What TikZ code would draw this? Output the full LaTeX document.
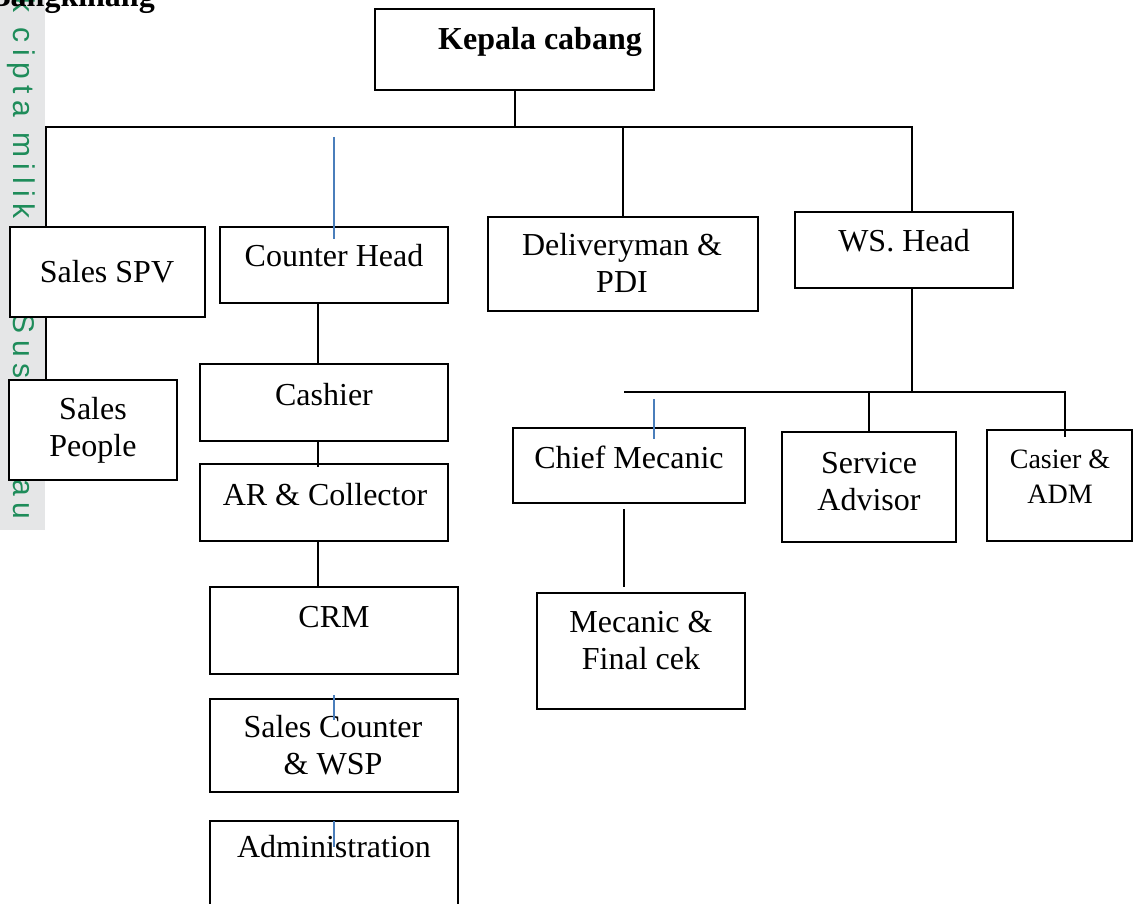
\documentclass[tikz,border=0pt]{standalone}
\usepackage{fontspec}
\setmainfont{Liberation Serif}
\newfontfamily\wmfont[LetterSpace=22]{Liberation Sans}
\usepackage{tikz}
\definecolor{biru}{HTML}{4A7EBB}
\definecolor{hijau}{HTML}{1E8C5A}
\definecolor{abu}{HTML}{E5E6E7}
\tikzstyle{kotak}=[draw,line width=2pt,fill=white,inner sep=0pt,outer sep=0pt,anchor=north west]
\tikzstyle{tulisan}=[inner sep=0pt,anchor=base,align=center,font=\fontsize{32}{37}\selectfont]
\tikzstyle{garis} = [draw,line width=2pt,-]
\tikzstyle{garisbiru} = [draw,line width=1.4pt,biru,-]

\begin{document}
\begin{tikzpicture}[x=1pt,y=-1pt]
      \useasboundingbox (0,0) rectangle (1133,904);
      % strip tepi kiri
      \fill[abu] (0,0) rectangle (45,530);
      \node[font=\wmfont\fontsize{30}{30}\selectfont,text=hijau,rotate=-90,anchor=base west,inner sep=0pt] (hakcipta) at (13,-54) {Hak cipta milik UIN Suska Riau};
      \node[font=\bfseries\fontsize{32}{37}\selectfont,anchor=base east,inner sep=0pt] (judul) at (155,7) {Bangkinang};

      \foreach \id/\xa/\ya/\xb/\yb in {kepala/375/9/654/90,spv/10/227/205/317,people/9/380/177/480,
          counter/220/227/448/303,cashier/200/364/448/441,ar/200/464/448/541,crm/210/587/458/674,
          salescounter/210/699/458/792,admin/210/821/458/915,delivery/488/217/758/311,
          ws/795/212/1013/288,chief/513/428/745/503,mecanic/537/593/745/709,
          service/782/432/956/542,casier/987/430/1132/541}{
        \node[kotak,minimum width={(\xb-\xa)*1pt},minimum height={(\yb-\ya)*1pt}] (\id) at (\xa,\ya) {};
      }

      % baris terakhir dipakai sebagai base
      \node[tulisan,font=\bfseries\fontsize{32}{37}\selectfont] (tkepala) at (540,50) {Kepala cabang};
      \node[tulisan] (tspv) at (107,283) {Sales SPV};
      \node[tulisan] (tpeople) at (93,456) {Sales\\People};
      \node[tulisan] (tcounter) at (334,267) {Counter Head};
      \node[tulisan] (tcashier) at (324,405) {Cashier};
      \node[tulisan] (tar) at (325,505) {AR \& Collector};
      \node[tulisan] (tcrm) at (334,627) {CRM};
      \node[tulisan] (tsalescounter) at (333,774) {Sales Counter\\\& WSP};
      \node[tulisan] (tadmin) at (334,857) {Administration};
      \node[tulisan] (tdelivery) at (622,293) {Deliveryman \&\\PDI};
      \node[tulisan] (tws) at (904,252) {WS. Head};
      \node[tulisan] (tchief) at (629,468) {Chief Mecanic};
      \node[tulisan] (tmecanic) at (641,669) {Mecanic \&\\Final cek};
      \node[tulisan] (tservice) at (869,510) {Service\\Advisor};
      \node[tulisan,font=\fontsize{28}{35}\selectfont] (tcasier) at (1060,503) {Casier \&\\ADM};

      \coordinate (barkiri) at (46,127);
      \coordinate (barkanan) at (912,127);
      \coordinate (jalur) at (318,0);
      \coordinate (bar2kiri) at (624,392);
      \coordinate (bar2kanan) at (1065,392);

      \path[garis] (kepala.south) -- (kepala.south |- barkiri);
      \path[garis] (barkiri |- spv.north) -- (barkiri) -- (barkanan) -- (barkanan |- ws.north);
      \path[garis] (delivery.north) -- (delivery.north |- barkiri);
      \path[garis] (barkiri |- spv.south) -- (barkiri |- people.north);
      \path[garis] (counter.south -| jalur) -- (cashier.north -| jalur);
      \path[garis] (cashier.south -| jalur) -- ([yshift=-3pt]ar.north -| jalur);
      \path[garis] (ar.south -| jalur) -- (crm.north -| jalur);
      \path[garis] (ws.south -| barkanan) -- (barkanan |- bar2kiri);
      \path[garis] (bar2kiri) -- (bar2kanan) -- ([yshift=-7pt]casier.north -| bar2kanan);
      \path[garis] (service.north) -- (service.north |- bar2kiri);
      \path[garis] ([yshift=-6pt]chief.south -| bar2kiri) -- ([yshift=6pt]mecanic.north -| bar2kiri);

      \path[garisbiru] ([yshift=90pt]counter.north) -- ([yshift=-12pt]counter.north);
      \path[garisbiru] ([xshift=25pt,yshift=29pt]chief.north) -- ([xshift=25pt,yshift=-11pt]chief.north);
      \path[garisbiru] ([yshift=4pt]salescounter.north) -- ([yshift=-21pt]salescounter.north);
      \path[garisbiru] (admin.north) -- ([yshift=-26pt]admin.north);

    \end{tikzpicture}
\end{document}
